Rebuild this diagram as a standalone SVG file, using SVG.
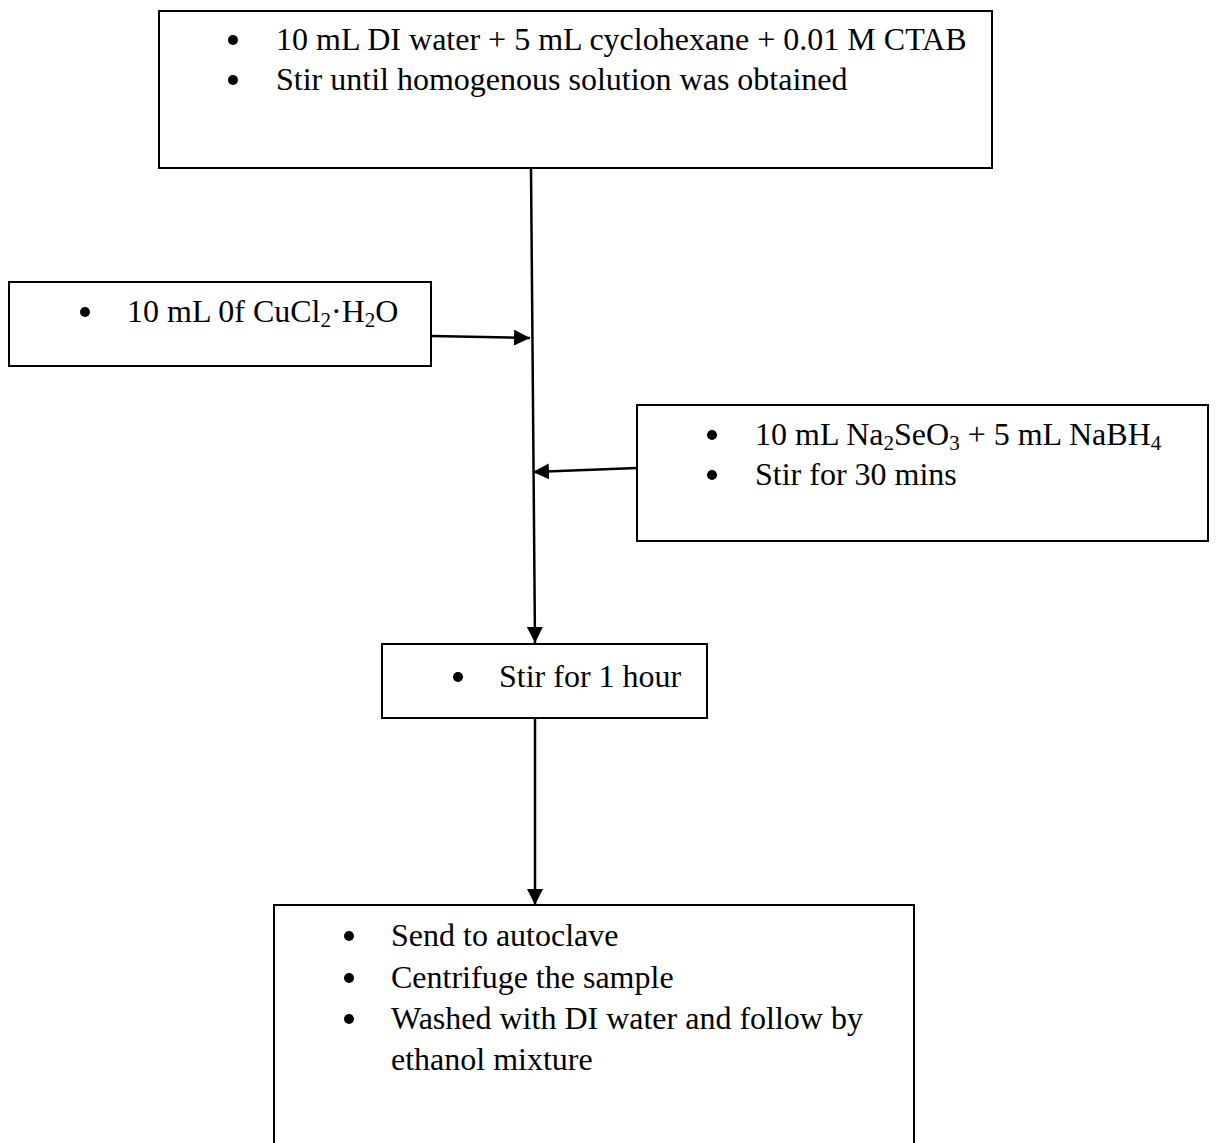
<svg xmlns="http://www.w3.org/2000/svg" width="1217" height="1143" viewBox="0 0 1217 1143">
<style>
.box{fill:#fff;stroke:#000;stroke-width:2}
.t{font-family:"Liberation Serif","Times New Roman",serif;font-size:32px;fill:#000}
.s{font-size:21px}
.b{fill:#000}
.c{stroke:#000;stroke-width:2.5;fill:none}
</style>
<defs>
<marker id="ah" viewBox="0 0 10 10" refX="10" refY="5" markerWidth="16" markerHeight="16" markerUnits="userSpaceOnUse" orient="auto">
<path d="M0,0 L10,5 L0,10 z" fill="#000"/>
</marker>
</defs>
<rect width="1217" height="1143" fill="#fff"/>
<g id="connectors">
<line class="c" x1="531" y1="168" x2="535" y2="643" marker-end="url(#ah)"/>
<line class="c" x1="431" y1="336" x2="530" y2="338" marker-end="url(#ah)"/>
<line class="c" x1="637" y1="468" x2="533" y2="472" marker-end="url(#ah)"/>
<line class="c" x1="535" y1="718" x2="535" y2="905" marker-end="url(#ah)"/>
</g>
<g id="n1">
<rect class="box" x="159" y="11" width="833" height="157"/>
<circle class="b" cx="233" cy="40" r="5"/>
<circle class="b" cx="233" cy="80" r="5"/>
<text class="t" x="276" y="50">10 mL DI water + 5 mL cyclohexane + 0.01 M CTAB</text>
<text class="t" x="276" y="90">Stir until homogenous solution was obtained</text>
</g>
<g id="n2">
<rect class="box" x="9" y="282" width="422" height="84"/>
<circle class="b" cx="85" cy="312" r="5"/>
<text class="t" x="127" y="322">10 mL 0f CuCl<tspan class="s" dy="5">2</tspan><tspan dy="-5">·H</tspan><tspan class="s" dy="5">2</tspan><tspan dy="-5">O</tspan></text>
</g>
<g id="n3">
<rect class="box" x="637" y="405" width="571" height="136"/>
<circle class="b" cx="712" cy="435" r="5"/>
<circle class="b" cx="712" cy="475" r="5"/>
<text class="t" x="755" y="445">10 mL Na<tspan class="s" dy="5">2</tspan><tspan dy="-5">SeO</tspan><tspan class="s" dy="5">3</tspan><tspan dy="-5"> + 5 mL NaBH</tspan><tspan class="s" dy="5">4</tspan></text>
<text class="t" x="755" y="485">Stir for 30 mins</text>
</g>
<g id="n4">
<rect class="box" x="382" y="644" width="325" height="74"/>
<circle class="b" cx="458" cy="677" r="5"/>
<text class="t" x="499" y="687">Stir for 1 hour</text>
</g>
<g id="n5">
<rect class="box" x="274" y="905" width="640" height="260"/>
<circle class="b" cx="349" cy="936" r="5"/>
<circle class="b" cx="349" cy="978" r="5"/>
<circle class="b" cx="349" cy="1019" r="5"/>
<text class="t" x="391" y="946">Send to autoclave</text>
<text class="t" x="391" y="988">Centrifuge the sample</text>
<text class="t" x="391" y="1029">Washed with DI water and follow by</text>
<text class="t" x="391" y="1070">ethanol mixture</text>
</g>
</svg>
